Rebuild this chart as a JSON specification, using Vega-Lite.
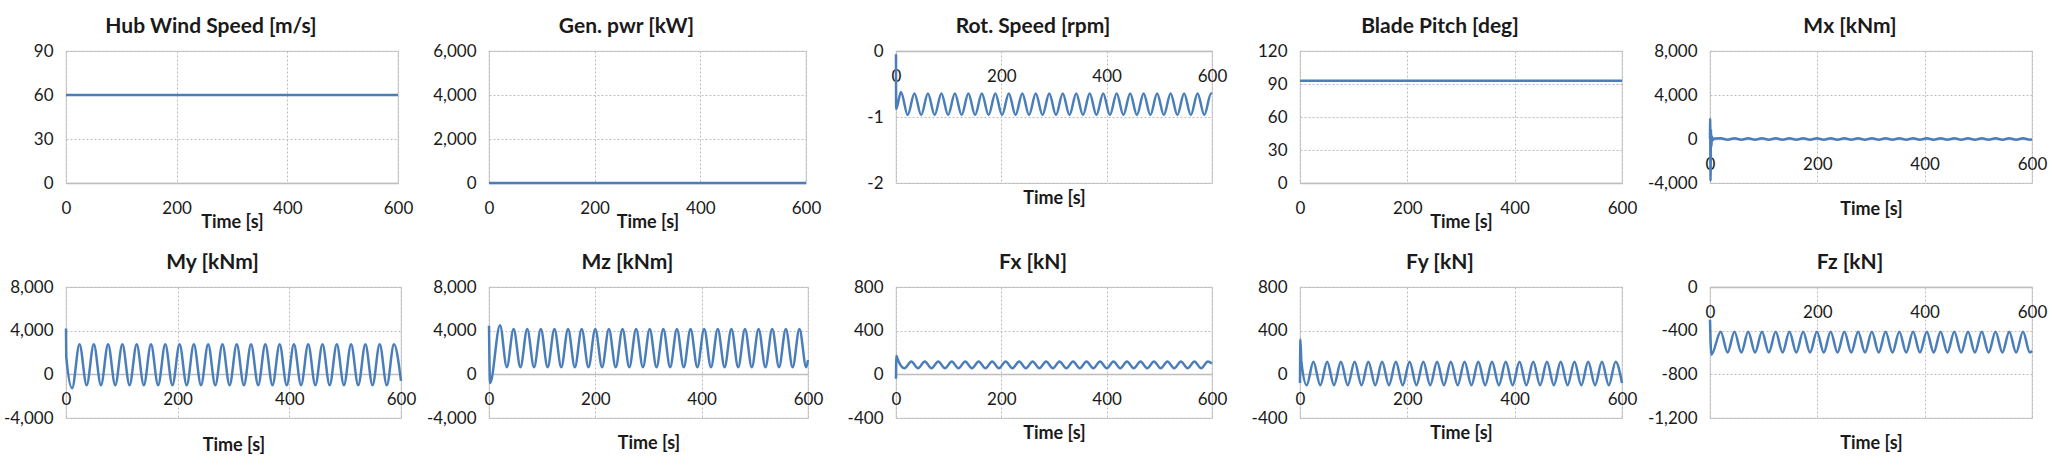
{
"$schema": "https://vega.github.io/schema/vega-lite/v6.json",
"background": "white",
"padding": {"left": 2, "top": 15, "right": 0, "bottom": 0},
"config": {
  "font": "Lato",
  "view": {"stroke": "#cfcfcf", "strokeWidth": 1.2},
  "title": {"font": "Lato", "fontSize": 21, "fontWeight": "bold", "color": "#1a1a1a", "anchor": "middle", "frame": "group", "dx": -21, "baseline": "middle", "offset": 5},
  "axis": {"labelFont": "Lato", "labelFontSize": 17, "labelColor": "#1a1a1a", "titleFont": "Lato", "titleFontSize": 18, "titleFontWeight": "bold", "titleColor": "#1a1a1a", "ticks": false, "grid": true, "gridDash": [2, 2], "gridColor": "#bdbdbd", "gridWidth": 1, "labelOverlap": false},
  "axisX": {"labelFlush": false, "labelPadding": 25, "labelBaseline": "middle", "domainColor": "#bdbdbd", "domainWidth": 1.5, "titleBaseline": "middle"},
  "axisY": {"domain": false, "labelPadding": 13},
  "line": {"color": "#4a7ebb", "strokeWidth": 2.5, "interpolate": "monotone"}
},
"datasets": {
  "hub": [{"t": 0, "v": 60}, {"t": 600, "v": 60}],
  "gen": [{"t": 0, "v": 0}, {"t": 600, "v": 0}],
  "pitch": [{"t": 0, "v": 93}, {"t": 600, "v": 93}],
  "rot": [{"t":0,"v":-0.05},{"t":0.3,"v":-0.88},{"t":9.4,"v":-0.62},{"t":22.2,"v":-0.97},{"t":35.0,"v":-0.645},{"t":47.8,"v":-0.97},{"t":60.6,"v":-0.645},{"t":73.4,"v":-0.97},{"t":86.2,"v":-0.645},{"t":99.0,"v":-0.97},{"t":111.8,"v":-0.645},{"t":124.6,"v":-0.97},{"t":137.4,"v":-0.645},{"t":150.2,"v":-0.97},{"t":163.0,"v":-0.645},{"t":175.8,"v":-0.97},{"t":188.6,"v":-0.645},{"t":201.4,"v":-0.97},{"t":214.2,"v":-0.645},{"t":227.0,"v":-0.97},{"t":239.8,"v":-0.645},{"t":252.6,"v":-0.97},{"t":265.4,"v":-0.645},{"t":278.2,"v":-0.97},{"t":291.0,"v":-0.645},{"t":303.8,"v":-0.97},{"t":316.6,"v":-0.645},{"t":329.4,"v":-0.97},{"t":342.2,"v":-0.645},{"t":355.0,"v":-0.97},{"t":367.8,"v":-0.645},{"t":380.6,"v":-0.97},{"t":393.4,"v":-0.645},{"t":406.2,"v":-0.97},{"t":419.0,"v":-0.645},{"t":431.8,"v":-0.97},{"t":444.6,"v":-0.645},{"t":457.4,"v":-0.97},{"t":470.2,"v":-0.645},{"t":483.0,"v":-0.97},{"t":495.8,"v":-0.645},{"t":508.6,"v":-0.97},{"t":521.4,"v":-0.645},{"t":534.2,"v":-0.97},{"t":547.0,"v":-0.645},{"t":559.8,"v":-0.97},{"t":572.6,"v":-0.645},{"t":585.4,"v":-0.97},{"t":598.2,"v":-0.645},{"t":600,"v":-0.65}],
  "mx": [{"t":0,"v":0},{"t":0.4,"v":1850},{"t":1.0,"v":-3800},{"t":1.8,"v":900},{"t":2.6,"v":-700},{"t":3.5,"v":250},{"t":5,"v":-100},{"t":8,"v":40},{"t":20.0,"v":60},{"t":32.8,"v":-60},{"t":45.6,"v":60},{"t":58.4,"v":-60},{"t":71.2,"v":60},{"t":84.0,"v":-60},{"t":96.8,"v":60},{"t":109.6,"v":-60},{"t":122.4,"v":60},{"t":135.2,"v":-60},{"t":148.0,"v":60},{"t":160.8,"v":-60},{"t":173.6,"v":60},{"t":186.4,"v":-60},{"t":199.2,"v":60},{"t":212.0,"v":-60},{"t":224.8,"v":60},{"t":237.6,"v":-60},{"t":250.4,"v":60},{"t":263.2,"v":-60},{"t":276.0,"v":60},{"t":288.8,"v":-60},{"t":301.6,"v":60},{"t":314.4,"v":-60},{"t":327.2,"v":60},{"t":340.0,"v":-60},{"t":352.8,"v":60},{"t":365.6,"v":-60},{"t":378.4,"v":60},{"t":391.2,"v":-60},{"t":404.0,"v":60},{"t":416.8,"v":-60},{"t":429.6,"v":60},{"t":442.4,"v":-60},{"t":455.2,"v":60},{"t":468.0,"v":-60},{"t":480.8,"v":60},{"t":493.6,"v":-60},{"t":506.4,"v":60},{"t":519.2,"v":-60},{"t":532.0,"v":60},{"t":544.8,"v":-60},{"t":557.6,"v":60},{"t":570.4,"v":-60},{"t":583.2,"v":60},{"t":596.0,"v":-60},{"t":600,"v":-50}],
  "my": [{"t":0,"v":4200},{"t":0.5,"v":1600},{"t":11,"v":-1270},{"t":24.2,"v":2750},{"t":37.0,"v":-1000},{"t":49.8,"v":2750},{"t":62.6,"v":-1000},{"t":75.4,"v":2750},{"t":88.2,"v":-1000},{"t":101.0,"v":2750},{"t":113.8,"v":-1000},{"t":126.6,"v":2750},{"t":139.4,"v":-1000},{"t":152.2,"v":2750},{"t":165.0,"v":-1000},{"t":177.8,"v":2750},{"t":190.6,"v":-1000},{"t":203.4,"v":2750},{"t":216.2,"v":-1000},{"t":229.0,"v":2750},{"t":241.8,"v":-1000},{"t":254.6,"v":2750},{"t":267.4,"v":-1000},{"t":280.2,"v":2750},{"t":293.0,"v":-1000},{"t":305.8,"v":2750},{"t":318.6,"v":-1000},{"t":331.4,"v":2750},{"t":344.2,"v":-1000},{"t":357.0,"v":2750},{"t":369.8,"v":-1000},{"t":382.6,"v":2750},{"t":395.4,"v":-1000},{"t":408.2,"v":2750},{"t":421.0,"v":-1000},{"t":433.8,"v":2750},{"t":446.6,"v":-1000},{"t":459.4,"v":2750},{"t":472.2,"v":-1000},{"t":485.0,"v":2750},{"t":497.8,"v":-1000},{"t":510.6,"v":2750},{"t":523.4,"v":-1000},{"t":536.2,"v":2750},{"t":549.0,"v":-1000},{"t":561.8,"v":2750},{"t":574.6,"v":-1000},{"t":587.4,"v":2750},{"t":600,"v":-600}],
  "mz": [{"t":0,"v":4450},{"t":2,"v":-800},{"t":20.7,"v":4500},{"t":33.5,"v":650},{"t":46.3,"v":4150},{"t":59.1,"v":650},{"t":71.9,"v":4150},{"t":84.7,"v":650},{"t":97.5,"v":4150},{"t":110.3,"v":650},{"t":123.1,"v":4150},{"t":135.9,"v":650},{"t":148.7,"v":4150},{"t":161.5,"v":650},{"t":174.3,"v":4150},{"t":187.1,"v":650},{"t":199.9,"v":4150},{"t":212.7,"v":650},{"t":225.5,"v":4150},{"t":238.3,"v":650},{"t":251.1,"v":4150},{"t":263.9,"v":650},{"t":276.7,"v":4150},{"t":289.5,"v":650},{"t":302.3,"v":4150},{"t":315.1,"v":650},{"t":327.9,"v":4150},{"t":340.7,"v":650},{"t":353.5,"v":4150},{"t":366.3,"v":650},{"t":379.1,"v":4150},{"t":391.9,"v":650},{"t":404.7,"v":4150},{"t":417.5,"v":650},{"t":430.3,"v":4150},{"t":443.1,"v":650},{"t":455.9,"v":4150},{"t":468.7,"v":650},{"t":481.5,"v":4150},{"t":494.3,"v":650},{"t":507.1,"v":4150},{"t":519.9,"v":650},{"t":532.7,"v":4150},{"t":545.5,"v":650},{"t":558.3,"v":4150},{"t":571.1,"v":650},{"t":583.9,"v":4150},{"t":596.7,"v":650},{"t":600,"v":1300}],
  "fx": [{"t":0,"v":-40},{"t":0.8,"v":170},{"t":3,"v":140},{"t":16.2,"v":55},{"t":29.0,"v":118},{"t":41.8,"v":55},{"t":54.6,"v":118},{"t":67.4,"v":55},{"t":80.2,"v":118},{"t":93.0,"v":55},{"t":105.8,"v":118},{"t":118.6,"v":55},{"t":131.4,"v":118},{"t":144.2,"v":55},{"t":157.0,"v":118},{"t":169.8,"v":55},{"t":182.6,"v":118},{"t":195.4,"v":55},{"t":208.2,"v":118},{"t":221.0,"v":55},{"t":233.8,"v":118},{"t":246.6,"v":55},{"t":259.4,"v":118},{"t":272.2,"v":55},{"t":285.0,"v":118},{"t":297.8,"v":55},{"t":310.6,"v":118},{"t":323.4,"v":55},{"t":336.2,"v":118},{"t":349.0,"v":55},{"t":361.8,"v":118},{"t":374.6,"v":55},{"t":387.4,"v":118},{"t":400.2,"v":55},{"t":413.0,"v":118},{"t":425.8,"v":55},{"t":438.6,"v":118},{"t":451.4,"v":55},{"t":464.2,"v":118},{"t":477.0,"v":55},{"t":489.8,"v":118},{"t":502.6,"v":55},{"t":515.4,"v":118},{"t":528.2,"v":55},{"t":541.0,"v":118},{"t":553.8,"v":55},{"t":566.6,"v":118},{"t":579.4,"v":55},{"t":592.2,"v":118},{"t":600,"v":100}],
  "fy": [{"t":0,"v":-80},{"t":0.8,"v":320},{"t":2.5,"v":120},{"t":12.5,"v":-100},{"t":25.0,"v":115},{"t":37.8,"v":-100},{"t":50.6,"v":115},{"t":63.4,"v":-100},{"t":76.2,"v":115},{"t":89.0,"v":-100},{"t":101.8,"v":115},{"t":114.6,"v":-100},{"t":127.4,"v":115},{"t":140.2,"v":-100},{"t":153.0,"v":115},{"t":165.8,"v":-100},{"t":178.6,"v":115},{"t":191.4,"v":-100},{"t":204.2,"v":115},{"t":217.0,"v":-100},{"t":229.8,"v":115},{"t":242.6,"v":-100},{"t":255.4,"v":115},{"t":268.2,"v":-100},{"t":281.0,"v":115},{"t":293.8,"v":-100},{"t":306.6,"v":115},{"t":319.4,"v":-100},{"t":332.2,"v":115},{"t":345.0,"v":-100},{"t":357.8,"v":115},{"t":370.6,"v":-100},{"t":383.4,"v":115},{"t":396.2,"v":-100},{"t":409.0,"v":115},{"t":421.8,"v":-100},{"t":434.6,"v":115},{"t":447.4,"v":-100},{"t":460.2,"v":115},{"t":473.0,"v":-100},{"t":485.8,"v":115},{"t":498.6,"v":-100},{"t":511.4,"v":115},{"t":524.2,"v":-100},{"t":537.0,"v":115},{"t":549.8,"v":-100},{"t":562.6,"v":115},{"t":575.4,"v":-100},{"t":588.2,"v":115},{"t":600,"v":-80}],
  "fz": [{"t":0,"v":-300},{"t":2.5,"v":-620},{"t":20.0,"v":-410},{"t":32.8,"v":-600},{"t":45.6,"v":-410},{"t":58.4,"v":-600},{"t":71.2,"v":-410},{"t":84.0,"v":-600},{"t":96.8,"v":-410},{"t":109.6,"v":-600},{"t":122.4,"v":-410},{"t":135.2,"v":-600},{"t":148.0,"v":-410},{"t":160.8,"v":-600},{"t":173.6,"v":-410},{"t":186.4,"v":-600},{"t":199.2,"v":-410},{"t":212.0,"v":-600},{"t":224.8,"v":-410},{"t":237.6,"v":-600},{"t":250.4,"v":-410},{"t":263.2,"v":-600},{"t":276.0,"v":-410},{"t":288.8,"v":-600},{"t":301.6,"v":-410},{"t":314.4,"v":-600},{"t":327.2,"v":-410},{"t":340.0,"v":-600},{"t":352.8,"v":-410},{"t":365.6,"v":-600},{"t":378.4,"v":-410},{"t":391.2,"v":-600},{"t":404.0,"v":-410},{"t":416.8,"v":-600},{"t":429.6,"v":-410},{"t":442.4,"v":-600},{"t":455.2,"v":-410},{"t":468.0,"v":-600},{"t":480.8,"v":-410},{"t":493.6,"v":-600},{"t":506.4,"v":-410},{"t":519.2,"v":-600},{"t":532.0,"v":-410},{"t":544.8,"v":-600},{"t":557.6,"v":-410},{"t":570.4,"v":-600},{"t":583.2,"v":-410},{"t":596.0,"v":-600},{"t":600,"v":-585}]
},
"columns": 5,
"align": "each",
"bounds": "flush",
"spacing": {"row": 104, "column": 88},
"concat": [
    {"data": {"name": "hub"}, "title": "Hub Wind Speed [m/s]", "width": 332, "height": 132, "mark": "line",
     "encoding": {"x": {"field": "t", "type": "quantitative", "scale": {"domain": [0, 600], "nice": false}, "axis": {"values": [0, 200, 400, 600], "title": "Time [s]", "titleY": 39}},
                  "y": {"field": "v", "type": "quantitative", "scale": {"domain": [0, 90], "nice": false, "zero": false}, "axis": {"values": [0, 30, 60, 90], "title": null}}}},
    {"data": {"name": "gen"}, "title": "Gen. pwr [kW]", "width": 317, "height": 132, "mark": "line",
     "encoding": {"x": {"field": "t", "type": "quantitative", "scale": {"domain": [0, 600], "nice": false}, "axis": {"values": [0, 200, 400, 600], "title": "Time [s]", "titleY": 39}},
                  "y": {"field": "v", "type": "quantitative", "scale": {"domain": [0, 6000], "nice": false, "zero": false}, "axis": {"values": [0, 2000, 4000, 6000], "title": null, "labelExpr": "replace(format(datum.value, ','), '−', '-')"}}}},
    {"data": {"name": "rot"}, "title": "Rot. Speed [rpm]", "width": 316, "height": 132, "mark": "line",
     "encoding": {"x": {"field": "t", "type": "quantitative", "scale": {"domain": [0, 600], "nice": false}, "axis": {"values": [0, 200, 400, 600], "title": "Time [s]", "offset": -132, "titleY": 147}},
                  "y": {"field": "v", "type": "quantitative", "scale": {"domain": [-2, 0], "nice": false, "zero": false}, "axis": {"values": [-2, -1, 0], "title": null, "labelExpr": "replace(format(datum.value, ','), '−', '-')"}}}},
    {"data": {"name": "pitch"}, "title": "Blade Pitch [deg]", "width": 322, "height": 132, "mark": "line",
     "encoding": {"x": {"field": "t", "type": "quantitative", "scale": {"domain": [0, 600], "nice": false}, "axis": {"values": [0, 200, 400, 600], "title": "Time [s]", "titleY": 39}},
                  "y": {"field": "v", "type": "quantitative", "scale": {"domain": [0, 120], "nice": false, "zero": false}, "axis": {"values": [0, 30, 60, 90, 120], "title": null}}}},
    {"data": {"name": "mx"}, "title": "Mx [kNm]", "width": 322, "height": 132, "mark": "line",
     "encoding": {"x": {"field": "t", "type": "quantitative", "scale": {"domain": [0, 600], "nice": false}, "axis": {"values": [0, 200, 400, 600], "title": "Time [s]", "offset": -44, "titleY": 70}},
                  "y": {"field": "v", "type": "quantitative", "scale": {"domain": [-4000, 8000], "nice": false, "zero": false}, "axis": {"values": [-4000, 0, 4000, 8000], "title": null, "labelExpr": "replace(format(datum.value, ','), '−', '-')"}}}},
    {"data": {"name": "my"}, "title": "My [kNm]", "width": 335, "height": 131, "mark": "line",
     "encoding": {"x": {"field": "t", "type": "quantitative", "scale": {"domain": [0, 600], "nice": false}, "axis": {"values": [0, 200, 400, 600], "title": "Time [s]", "offset": -44, "titleY": 71}},
                  "y": {"field": "v", "type": "quantitative", "scale": {"domain": [-4000, 8000], "nice": false, "zero": false}, "axis": {"values": [-4000, 0, 4000, 8000], "title": null, "labelExpr": "replace(format(datum.value, ','), '−', '-')"}}}},
    {"data": {"name": "mz"}, "title": "Mz [kNm]", "width": 319, "height": 131, "mark": "line",
     "encoding": {"x": {"field": "t", "type": "quantitative", "scale": {"domain": [0, 600], "nice": false}, "axis": {"values": [0, 200, 400, 600], "title": "Time [s]", "offset": -44, "titleY": 69}},
                  "y": {"field": "v", "type": "quantitative", "scale": {"domain": [-4000, 8000], "nice": false, "zero": false}, "axis": {"values": [-4000, 0, 4000, 8000], "title": null, "labelExpr": "replace(format(datum.value, ','), '−', '-')"}}}},
    {"data": {"name": "fx"}, "title": "Fx [kN]", "width": 316, "height": 131, "mark": "line",
     "encoding": {"x": {"field": "t", "type": "quantitative", "scale": {"domain": [0, 600], "nice": false}, "axis": {"values": [0, 200, 400, 600], "title": "Time [s]", "offset": -44, "titleY": 59}},
                  "y": {"field": "v", "type": "quantitative", "scale": {"domain": [-400, 800], "nice": false, "zero": false}, "axis": {"values": [-400, 0, 400, 800], "title": null, "labelExpr": "replace(format(datum.value, ','), '−', '-')"}}}},
    {"data": {"name": "fy"}, "title": "Fy [kN]", "width": 322, "height": 131, "mark": "line",
     "encoding": {"x": {"field": "t", "type": "quantitative", "scale": {"domain": [0, 600], "nice": false}, "axis": {"values": [0, 200, 400, 600], "title": "Time [s]", "offset": -44, "titleY": 59}},
                  "y": {"field": "v", "type": "quantitative", "scale": {"domain": [-400, 800], "nice": false, "zero": false}, "axis": {"values": [-400, 0, 400, 800], "title": null, "labelExpr": "replace(format(datum.value, ','), '−', '-')"}}}},
    {"data": {"name": "fz"}, "title": "Fz [kN]", "width": 322, "height": 131, "mark": "line",
     "encoding": {"x": {"field": "t", "type": "quantitative", "scale": {"domain": [0, 600], "nice": false}, "axis": {"values": [0, 200, 400, 600], "title": "Time [s]", "offset": -131, "titleY": 156}},
                  "y": {"field": "v", "type": "quantitative", "scale": {"domain": [-1200, 0], "nice": false, "zero": false}, "axis": {"values": [-1200, -800, -400, 0], "title": null, "labelExpr": "replace(format(datum.value, ','), '−', '-')"}}}}
]
}
